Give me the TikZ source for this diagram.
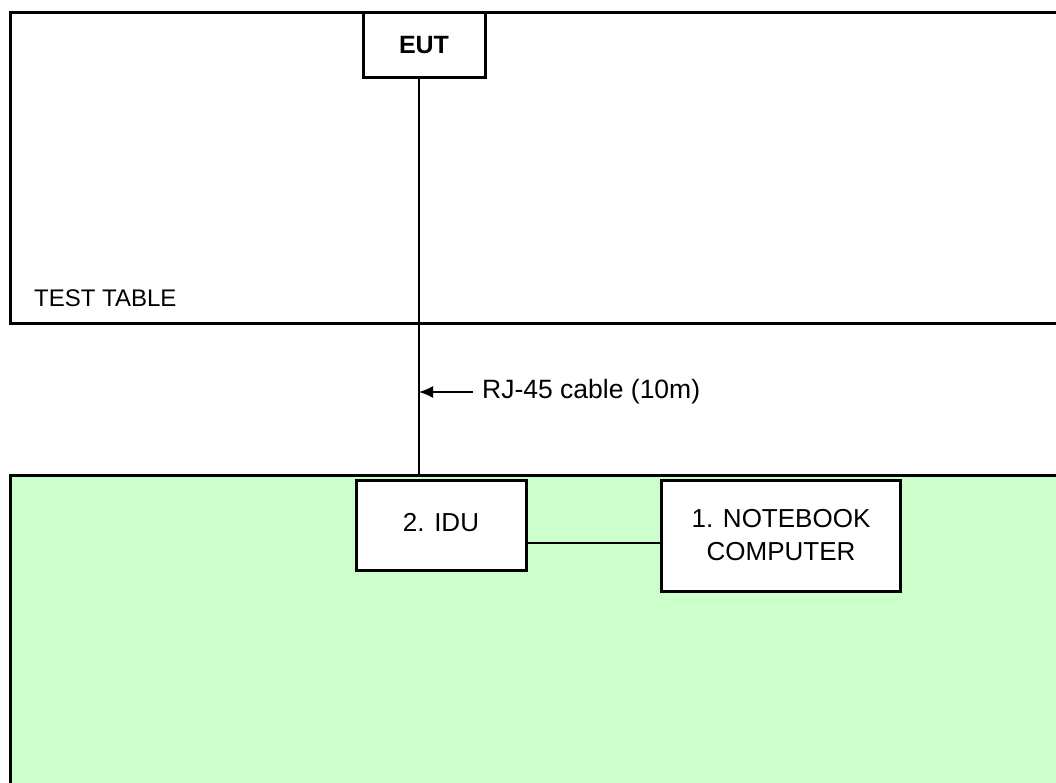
\documentclass[tikz,border=0pt]{standalone}
\usepackage{fontspec}
\setmainfont{Liberation Sans}
\usepackage{tikz}
\usetikzlibrary{arrows.meta, positioning}
\definecolor{benchgreen}{HTML}{CCFFCC}

\begin{document}
\begin{tikzpicture}[x=1pt, y=-1pt,
    unitbox/.style={draw, line width=3pt, fill=white, inner sep=2pt, align=center,
      font=\fontsize{26}{33}\selectfont},
    plaintext/.style={inner sep=2pt, font=\fontsize{26.5}{30}\selectfont}]
  \useasboundingbox (0, 0) rectangle (1056, 783);

  % Test table
  \draw[line width=3pt] (1070, 13) -- (10, 13) -- (10, 323) -- (1070, 323);
  \node[plaintext, anchor=west, font=\fontsize{24}{28}\selectfont] (tabletext) at (32, 298) {TEST TABLE};

  % Ground plane
  \fill[benchgreen] (10, 475) rectangle (1070, 800);
  \draw[line width=3pt] (10, 800) -- (10, 475) -- (1070, 475);

  % Units
  \node[unitbox, minimum width=122, minimum height=65, font=\fontsize{25}{28}\selectfont\bfseries]
    (eut) at (424, 45.5) {EUT};
  \node[unitbox, minimum width=170, minimum height=90] (idu) at (441, 525) {\raisebox{5pt}{2. IDU}};
  \node[unitbox, minimum width=239, minimum height=111] (notebook) at (781, 535.5)
    {1. NOTEBOOK\\COMPUTER};

  % Cables
  \coordinate (drop) at (419, 475);
  \coordinate (link) at (594, 543);
  \draw[line width=2pt] (eut.south -| drop) -- (drop);
  \draw[line width=1.5pt] (idu.east |- link) -- (notebook.west |- link);

  \node[plaintext, anchor=west] (rjtext) at (480, 392) {RJ-45 cable (10m)};
  \draw[line width=1.5pt, shorten <=7pt, -{Latex[length=14pt, width=12pt]}] (rjtext.west) -- (drop |- rjtext.west);
\end{tikzpicture}
\end{document}
